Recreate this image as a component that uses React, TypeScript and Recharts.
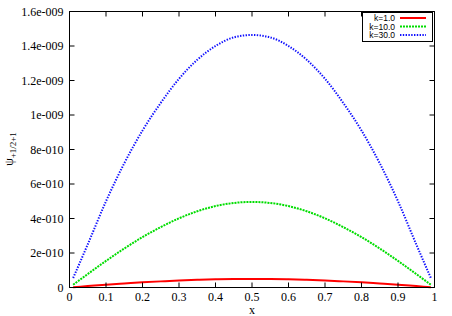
import React from "react";
import { LineChart, Line, XAxis, YAxis, ReferenceArea, Label } from "recharts";

const xValues = [0.01, 0.05, 0.1, 0.15, 0.2, 0.25, 0.3, 0.35, 0.4, 0.45, 0.5, 0.55, 0.6, 0.65, 0.7, 0.75, 0.8, 0.85, 0.9, 0.95, 0.99];
const k1Values = [0.16e-11, 0.8e-11, 1.6e-11, 2.3e-11, 3.0e-11, 3.55e-11, 4.05e-11, 4.45e-11, 4.75e-11, 4.93e-11, 5.0e-11, 4.93e-11, 4.75e-11, 4.45e-11, 4.05e-11, 3.55e-11, 3.0e-11, 2.3e-11, 1.6e-11, 0.8e-11, 0.16e-11];
const k10Values = [0.16e-10, 0.78e-10, 1.54e-10, 2.26e-10, 2.92e-10, 3.5e-10, 4.01e-10, 4.42e-10, 4.72e-10, 4.9e-10, 4.96e-10, 4.9e-10, 4.72e-10, 4.42e-10, 4.01e-10, 3.5e-10, 2.92e-10, 2.26e-10, 1.54e-10, 0.78e-10, 0.16e-10];
const k30Values = [0.055e-9, 0.25e-9, 0.5e-9, 0.72e-9, 0.91e-9, 1.07e-9, 1.21e-9, 1.32e-9, 1.4e-9, 1.45e-9, 1.464e-9, 1.45e-9, 1.4e-9, 1.32e-9, 1.21e-9, 1.07e-9, 0.91e-9, 0.72e-9, 0.5e-9, 0.25e-9, 0.055e-9];

const seriesNames = ["k=1.0", "k=10.0", "k=30.0"];
const xTicks = [0, 0.1, 0.2, 0.3, 0.4, 0.5, 0.6, 0.7, 0.8, 0.9, 1];
const xTickLabels = ["0", "0.1", "0.2", "0.3", "0.4", "0.5", "0.6", "0.7", "0.8", "0.9", "1"];
const yTicks = [0, 2e-10, 4e-10, 6e-10, 8e-10, 1e-9, 1.2e-9, 1.4e-9, 1.6e-9];
const yTickLabels = ["0", "2e-010", "4e-010", "6e-010", "8e-010", "1e-009", "1.2e-009", "1.4e-009", "1.6e-009"];

const data = xValues.map((x, i) => ({ x, k1: k1Values[i], k10: k10Values[i], k30: k30Values[i] }));

const W = 452;
const H = 316;
const TOP = 11.5;
const RIGHT_EDGE = 434.5;
const LEFT_EDGE = 69.5;
const SERIF = "'Liberation Serif', 'Times New Roman', serif";
const SANS = "'Liberation Sans', Arial, sans-serif";

const colors = ["#ff0000", "#00dd00", "#1010ff"];
const dashes = [undefined, "2 1", "1.4 1.4"];
const widths = [2, 2, 2];

const XTick = (props: any) => {
  const { x, y, index } = props;
  return (
    <g>
      <line x1={x} y1={y} x2={x} y2={y - 5} stroke="#000" />
      <line x1={x} y1={TOP} x2={x} y2={TOP + 5} stroke="#000" />
      <text x={x} y={y + 13} textAnchor="middle" fontFamily={SERIF} fontSize={12} fill="#000">
        {xTickLabels[index]}
      </text>
    </g>
  );
};

const YTick = (props: any) => {
  const { x, y, index } = props;
  return (
    <g>
      <line x1={x} y1={y} x2={x + 5} y2={y} stroke="#000" />
      <line x1={RIGHT_EDGE} y1={y} x2={RIGHT_EDGE - 5} y2={y} stroke="#000" />
      <text x={x - 6} y={y + 4} textAnchor="end" fontFamily={SERIF} fontSize={12} fill="#000">
        {yTickLabels[index]}
      </text>
    </g>
  );
};

const YLabel = () => (
  <text transform="translate(13,149) rotate(-90)" textAnchor="middle" fontFamily={SERIF} fontSize={12} fill="#000">
    ψ
    <tspan fontSize={9} dy={3}>+1/2+1</tspan>
  </text>
);

const XLabel = () => (
  <text x={252} y={314} textAnchor="middle" fontFamily={SERIF} fontSize={12} fill="#000">
    x
  </text>
);

function LegendBox() {
  return (
    <svg width={72} height={31} style={{ position: "absolute", left: 362, top: 12 }}>
      <rect x={0.5} y={0.5} width={70} height={29} fill="#fff" stroke="#000" />
      {seriesNames.map((name, i) => (
        <g key={name}>
          <text x={33} y={9 + i * 8.5} textAnchor="end" fontFamily={SANS} fontSize={8.5} fill="#000">
            {name}
          </text>
          <line x1={38} x2={64} y1={6 + i * 8.5} y2={6 + i * 8.5} stroke={colors[i]} strokeWidth={widths[i]} strokeDasharray={dashes[i]} />
        </g>
      ))}
    </svg>
  );
}

export default function App() {
  const keys = ["k1", "k10", "k30"];
  return (
    <div style={{ position: "absolute", left: 0, top: 0, width: W, height: H, background: "#fff" }}>
      <LineChart
        width={W}
        height={H}
        data={data}
        margin={{ top: TOP, right: W - RIGHT_EDGE, bottom: 8.5, left: LEFT_EDGE - 60 }}
      >
        <XAxis
          dataKey="x"
          type="number"
          domain={[0, 1]}
          ticks={xTicks}
          interval={0}
          height={20}
          tickSize={0}
          tickMargin={0}
          tickLine={false}
          axisLine={{ stroke: "#000" }}
          tick={<XTick />}
        >
          <Label content={<XLabel />} />
        </XAxis>
        <YAxis
          type="number"
          domain={[0, 1.6e-9]}
          ticks={yTicks}
          interval={0}
          width={60}
          tickSize={0}
          tickMargin={0}
          tickLine={false}
          axisLine={{ stroke: "#000" }}
          tick={<YTick />}
        >
          <Label content={<YLabel />} />
        </YAxis>
        <ReferenceArea x1={0} x2={1} y1={0} y2={1.6e-9} fill="none" stroke="#000" strokeOpacity={1} fillOpacity={0} />
        {keys.map((k, i) => (
          <Line
            key={k}
            dataKey={k}
            name={seriesNames[i]}
            type="monotone"
            stroke={colors[i]}
            strokeWidth={widths[i]}
            strokeDasharray={dashes[i]}
            dot={false}
            isAnimationActive={false}
          />
        ))}
      </LineChart>
      <LegendBox />
    </div>
  );
}
